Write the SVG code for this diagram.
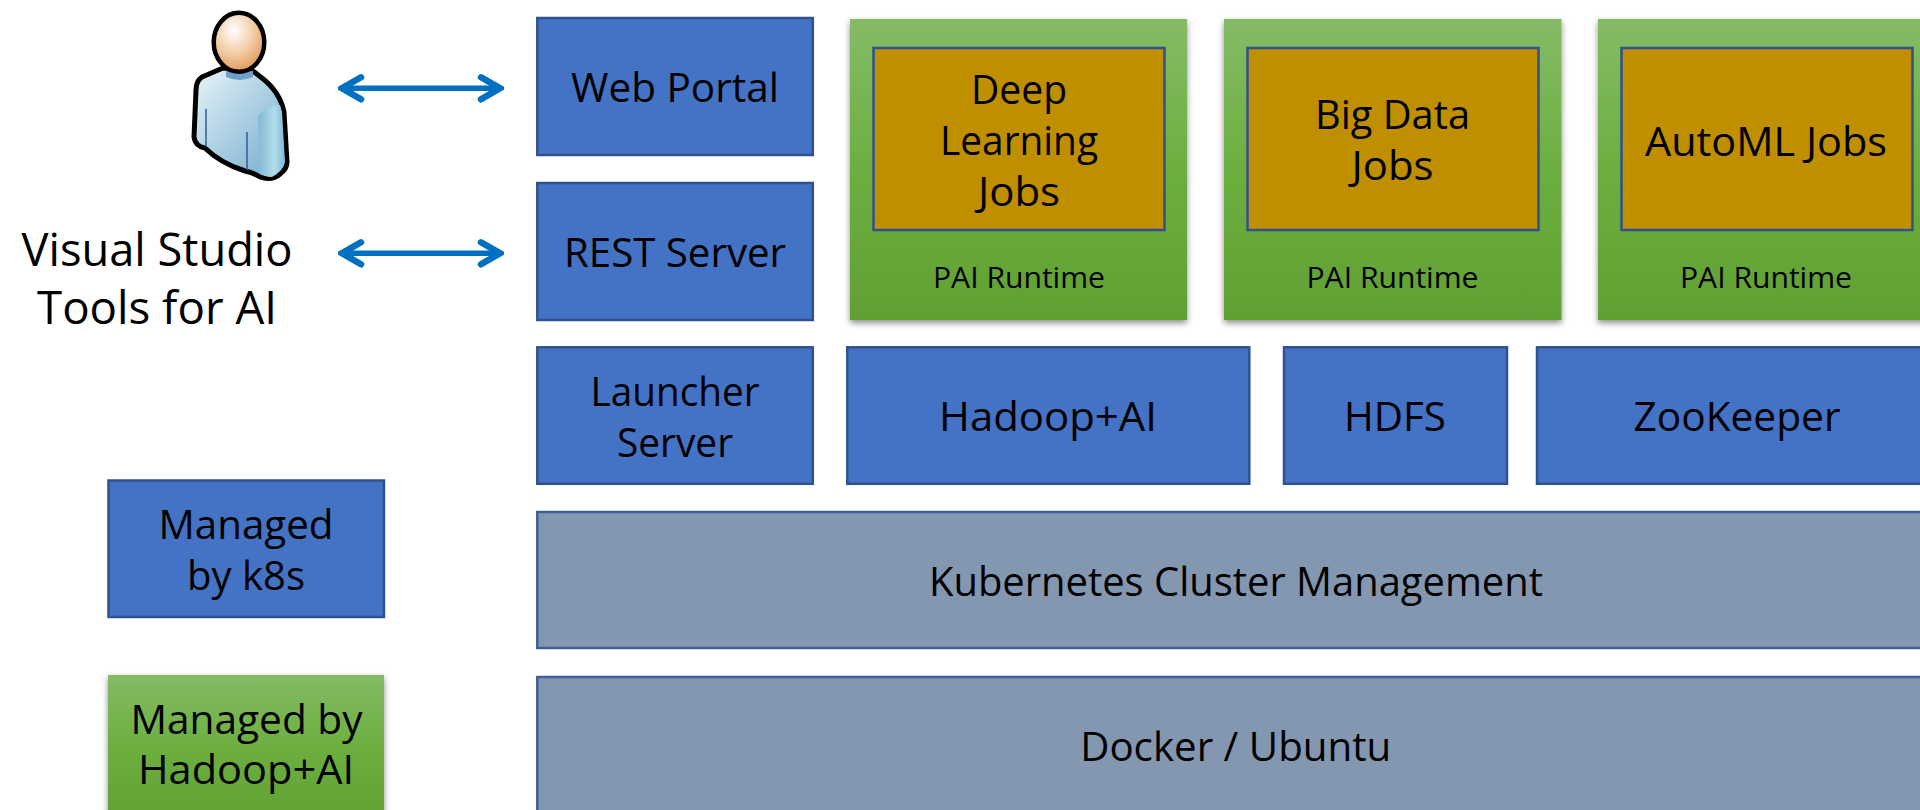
<svg xmlns="http://www.w3.org/2000/svg" width="1920" height="810" viewBox="0 0 1920 810">
<style>
text{font-family:"Open Sans","Noto Sans","Liberation Sans",sans-serif;fill:#000;text-anchor:middle}
.t{font-size:40px}
.s{font-size:30px}
.l{font-size:45.500px}
.blue{fill:#4472C4;stroke:#2F528F;stroke-width:2.500}
.grey{fill:#8497B0;stroke:#3F5F96;stroke-width:2.500}
.gold{fill:#BF8F00;stroke:#2F528F;stroke-width:2.500}
.green{fill:url(#gr);filter:url(#sh)}
.arrow{fill:none;stroke:#0070C0;stroke-width:5.500;marker-start:url(#ah);marker-end:url(#ah)}
</style>
<defs>
<linearGradient id="gr" x1="0" y1="0" x2="0" y2="1"><stop offset="0" stop-color="#85BB66"/><stop offset="0.5" stop-color="#6CAF3F"/><stop offset="1" stop-color="#61A033"/></linearGradient>
<filter id="sh" x="-10%" y="-10%" width="120%" height="120%"><feDropShadow dx="0" dy="3" stdDeviation="3" flood-color="#000" flood-opacity="0.45"/></filter>
<marker id="ah" markerUnits="userSpaceOnUse" viewBox="-30 -16 34 32" refX="0" refY="0" markerWidth="34" markerHeight="32" orient="auto-start-reverse"><path d="M-19 -11 L0 0 L-19 11" fill="none" stroke="#0070C0" stroke-width="6.500" stroke-linecap="round" stroke-linejoin="miter"/></marker>
<radialGradient id="skin" cx="0.4" cy="0.3" r="0.75"><stop offset="0" stop-color="#FFFFFF"/><stop offset="0.55" stop-color="#F2C9A0"/><stop offset="1" stop-color="#DC9550"/></radialGradient>
<linearGradient id="shirt" x1="0" y1="0" x2="1" y2="1"><stop offset="0" stop-color="#E9F5F8"/><stop offset="1" stop-color="#6FA9CE"/></linearGradient>
<linearGradient id="sleeve" x1="0" y1="0" x2="1" y2="0"><stop offset="0" stop-color="#84B8D6"/><stop offset="0.6" stop-color="#B0DDEA"/><stop offset="1" stop-color="#82B8D6"/></linearGradient>
</defs>
<g id="person">
<path d="M223 68 L202 77 Q196 81 196 90 L194 137 Q195 146 205 148 Q220 163 245 171 Q252 172 260 177 Q272 181 280 174 Q287 169 287 162 L284 112 Q280 92 262 78 L253 71 Z" fill="url(#shirt)" stroke="#000" stroke-width="5" stroke-linejoin="round"/>
<path d="M258 116 Q266 105 280 105 L282 112 L285 162 Q282 172 272 177 Q264 177 260 173 Z" fill="url(#sleeve)"/>
<path d="M226 71 L253 71 L253 77 Q240 83 226 77 Z" fill="#6F9FCB"/>
<path d="M206 109 V147 M247 132 V170" stroke="#2F5F94" stroke-width="1.500" fill="none"/>
<ellipse cx="239" cy="42.300" rx="25.300" ry="29.500" fill="url(#skin)" stroke="#000" stroke-width="4.500"/>
</g>
<g id="connectors">
<line class="arrow" x1="342" y1="88.300" x2="500" y2="88.300"/>
<line class="arrow" x1="342" y1="253.300" x2="500" y2="253.300"/>
</g>
<g id="visual-studio"><text class="l" x="157" y="266" textLength="271" lengthAdjust="spacingAndGlyphs">Visual Studio</text><text class="l" x="157" y="323.500" textLength="240" lengthAdjust="spacingAndGlyphs">Tools for AI</text></g>
<g id="web-portal"><rect class="blue" x="537.300" y="18" width="275.500" height="137"/><text class="t" x="675" y="102" textLength="208" lengthAdjust="spacingAndGlyphs">Web Portal</text></g>
<g id="rest-server"><rect class="blue" x="537.300" y="183" width="275.500" height="137"/><text class="t" x="675" y="267" textLength="222" lengthAdjust="spacingAndGlyphs">REST Server</text></g>
<g id="launcher-server"><rect class="blue" x="537.300" y="347.300" width="275.500" height="136.500"/><text class="t" x="675" y="406" textLength="169" lengthAdjust="spacingAndGlyphs">Launcher</text><text class="t" x="675" y="456.700" textLength="116" lengthAdjust="spacingAndGlyphs">Server</text></g>
<g id="deep-learning"><rect class="green" x="850" y="19" width="337" height="301"/><rect class="gold" x="873.500" y="48" width="291" height="182"/><text class="t" x="1019" y="104" textLength="96" lengthAdjust="spacingAndGlyphs">Deep</text><text class="t" x="1019" y="155" textLength="158" lengthAdjust="spacingAndGlyphs">Learning</text><text class="t" x="1019" y="206" textLength="82" lengthAdjust="spacingAndGlyphs">Jobs</text><text class="s" x="1019" y="288" textLength="172" lengthAdjust="spacingAndGlyphs">PAI Runtime</text></g>
<g id="big-data"><rect class="green" x="1224" y="19" width="337.500" height="301"/><rect class="gold" x="1247.500" y="48" width="291" height="182"/><text class="t" x="1392.500" y="129" textLength="155" lengthAdjust="spacingAndGlyphs">Big Data</text><text class="t" x="1392.500" y="179.500" textLength="82" lengthAdjust="spacingAndGlyphs">Jobs</text><text class="s" x="1392.500" y="288" textLength="172" lengthAdjust="spacingAndGlyphs">PAI Runtime</text></g>
<g id="automl"><rect class="green" x="1598" y="19" width="337" height="301"/><rect class="gold" x="1621.500" y="48" width="291" height="182"/><text class="t" x="1766" y="155.500" textLength="242" lengthAdjust="spacingAndGlyphs">AutoML Jobs</text><text class="s" x="1766" y="288" textLength="172" lengthAdjust="spacingAndGlyphs">PAI Runtime</text></g>
<g id="hadoop-ai"><rect class="blue" x="847.300" y="347.300" width="402" height="136.500"/><text class="t" x="1048" y="430.700" textLength="218" lengthAdjust="spacingAndGlyphs">Hadoop+AI</text></g>
<g id="hdfs"><rect class="blue" x="1284" y="347.300" width="223" height="136.500"/><text class="t" x="1395" y="430.700" textLength="102" lengthAdjust="spacingAndGlyphs">HDFS</text></g>
<g id="zookeeper"><rect class="blue" x="1537" y="347.300" width="395" height="136.500"/><text class="t" x="1737" y="430.700" textLength="207" lengthAdjust="spacingAndGlyphs">ZooKeeper</text></g>
<g id="kubernetes"><rect class="grey" x="537.300" y="512" width="1395" height="136"/><text class="t" x="1236" y="596" textLength="614" lengthAdjust="spacingAndGlyphs">Kubernetes Cluster Management</text></g>
<g id="docker"><rect class="grey" x="537.300" y="677" width="1395" height="145"/><text class="t" x="1235.700" y="761" textLength="311" lengthAdjust="spacingAndGlyphs">Docker / Ubuntu</text></g>
<g id="legend-k8s"><rect class="blue" x="108.500" y="480.500" width="275.500" height="136.500"/><text class="t" x="246" y="539" textLength="175" lengthAdjust="spacingAndGlyphs">Managed</text><text class="t" x="246" y="590" textLength="118" lengthAdjust="spacingAndGlyphs">by k8s</text></g>
<g id="legend-hadoop"><rect class="green" x="108" y="675" width="276" height="147"/><text class="t" x="246.500" y="733.500" textLength="232" lengthAdjust="spacingAndGlyphs">Managed by</text><text class="t" x="246" y="784" textLength="216" lengthAdjust="spacingAndGlyphs">Hadoop+AI</text></g>
</svg>
